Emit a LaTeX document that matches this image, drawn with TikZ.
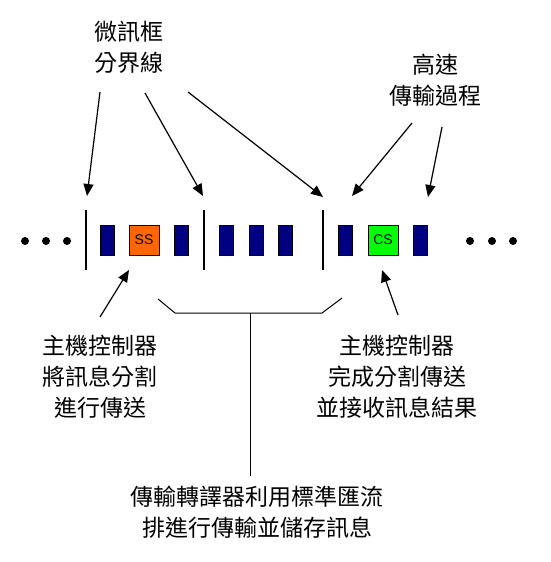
\documentclass[tikz,border=0pt]{standalone}
\usepackage{fontspec}
\newfontfamily\cjk{Noto Sans CJK TC}
\setsansfont{Liberation Sans}
\usetikzlibrary{arrows.meta}
\definecolor{navyblk}{RGB}{0,0,128}
\definecolor{ssorange}{RGB}{255,102,0}
\definecolor{csgreen}{RGB}{0,255,0}
\tikzset{
  lbl/.style={align=center,font=\cjk\fontsize{23}{31}\selectfont,inner sep=0pt},
  bluebox/.style={draw=black,fill=navyblk,minimum width=14pt,minimum height=30pt,inner sep=0pt,line width=0.6pt},
  tagbox/.style={draw=black,minimum width=30pt,minimum height=30pt,inner sep=0pt,line width=0.6pt,font=\sffamily\fontsize{14}{14}\selectfont},
  divider/.style={line width=1.4pt},
  dotnode/.style={circle,fill=black,minimum size=8pt,inner sep=0pt},
  pointer/.style={line width=1.2pt,-{Triangle[length=12pt,width=10pt]}},
  bracket/.style={line width=1pt}
}
\begin{document}
\begin{tikzpicture}[x=1pt,y=-1pt]
\useasboundingbox (0,0) rectangle (550,562);
% dots
\node[dotnode] (l1) at (25,241) {};
\node[dotnode] (l2) at (46,241) {};
\node[dotnode] (l3) at (67,241) {};
\node[dotnode] (r1) at (470,241) {};
\node[dotnode] (r2) at (492,241) {};
\node[dotnode] (r3) at (513,241) {};
% dividers
\coordinate (d1t) at (86,210); \coordinate (d1b) at (86,270);
\coordinate (d2t) at (204,210); \coordinate (d2b) at (204,270);
\coordinate (d3t) at (323,210); \coordinate (d3b) at (323,270);
\draw[divider] (d1t) -- (d1b);
\draw[divider] (d2t) -- (d2b);
\draw[divider] (d3t) -- (d3b);
% packets
\node[bluebox] (b1) at (107,240) {};
\node[tagbox,fill=ssorange] (ss) at (144,240) {SS};
\node[bluebox] (b2) at (181,240) {};
\node[bluebox] (b3) at (226,240) {};
\node[bluebox] (b4) at (256,240) {};
\node[bluebox] (b5) at (285,240) {};
\node[bluebox] (b6) at (345,240) {};
\node[tagbox,fill=csgreen] (cs) at (383,240) {CS};
\node[bluebox] (b7) at (420,240) {};
% labels
\node[lbl] (frame) at (129,47) {微訊框\\分界線};
\node[lbl] (fast) at (435,80) {高速\\傳輸過程};
\node[lbl] (split) at (100,377) {主機控制器\\將訊息分割\\進行傳送};
\node[lbl] (done) at (397,377) {主機控制器\\完成分割傳送\\並接收訊息結果};
\node[lbl] (tt) at (257,512) {傳輸轉譯器利用標準匯流\\排進行傳輸並儲存訊息};
% arrow ends
\coordinate (fa1) at (100,92); \coordinate (fh1) at (87,196);
\coordinate (fa2) at (145,93); \coordinate (fh2) at (203,196);
\coordinate (fa3) at (188,92); \coordinate (fh3) at (323,197);
\coordinate (ga1) at (412,123); \coordinate (gh1) at (352,196);
\coordinate (ga2) at (442,127); \coordinate (gh2) at (428,197);
\coordinate (sa) at (100,317); \coordinate (sh) at (129,270);
\coordinate (ca) at (398,315); \coordinate (ch) at (382,270);
\draw[pointer] (fa1) -- (fh1);
\draw[pointer] (fa2) -- (fh2);
\draw[pointer] (fa3) -- (fh3);
\draw[pointer] (ga1) -- (gh1);
\draw[pointer] (ga2) -- (gh2);
\draw[pointer] (sa) -- (sh);
\draw[pointer] (ca) -- (ch);
% bracket
\coordinate (k1) at (158,299); \coordinate (k2) at (175,313);
\coordinate (k3) at (322,313); \coordinate (k4) at (342,298);
\coordinate (km) at (250,313); \coordinate (kb) at (250,476);
\draw[bracket] (k1) -- (k2) -- (k3) -- (k4);
\draw[bracket] (km) -- (kb);
\end{tikzpicture}
\end{document}
